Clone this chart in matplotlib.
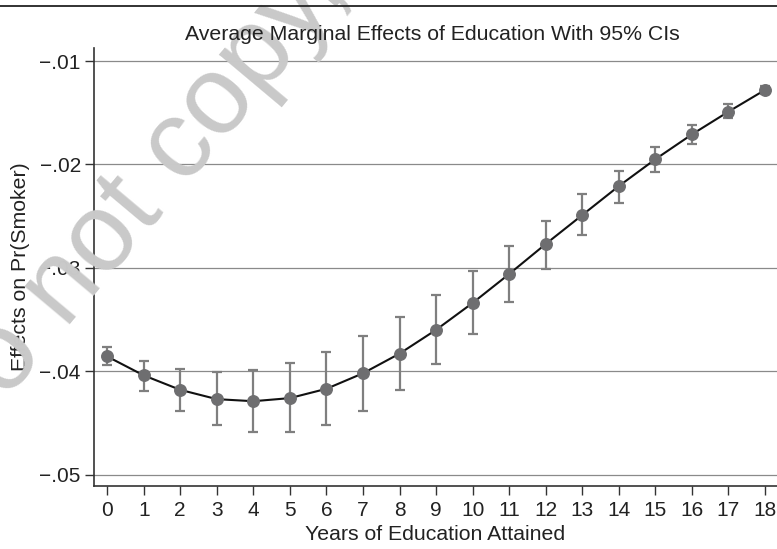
import matplotlib
matplotlib.use("Agg")
import matplotlib.pyplot as plt
from matplotlib.lines import Line2D
from matplotlib.ticker import FuncFormatter

plt.rcParams['font.family'] = ['Liberation Sans', 'DejaVu Sans']

years = list(range(19))
effect = [-0.03857, -0.0404, -0.0418, -0.0427, -0.0429, -0.0426, -0.0417, -0.0402,
          -0.0383, -0.0360, -0.0334, -0.0306, -0.0277, -0.0249, -0.0221, -0.0195,
          -0.0171, -0.0149, -0.0128]
ci_upper = [-0.03766, -0.0390, -0.0398, -0.0401, -0.0399, -0.0392, -0.0381, -0.0366,
            -0.0348, -0.0326, -0.0303, -0.0279, -0.0255, -0.0229, -0.0206, -0.0183,
            -0.0162, -0.0142, -0.0124]
ci_lower = [-0.0394, -0.0419, -0.0438, -0.0452, -0.0459, -0.0459, -0.0452, -0.0438,
            -0.0418, -0.0393, -0.0364, -0.0333, -0.0301, -0.0268, -0.0237, -0.0207,
            -0.0180, -0.0155, -0.0132]
yticks = [-0.05, -0.04, -0.03, -0.02, -0.01]

title = "Average Marginal Effects of Education With 95% CIs"
xlabel = "Years of Education Attained"
ylabel = "Effects on Pr(Smoker)"

fig = plt.figure(figsize=(7.77, 5.49), dpi=100)
ax = fig.add_axes([94/777, 1-486/549, 1-94/777, (486-48)/549])

yerr = [[e - l for e, l in zip(effect, ci_lower)], [u - e for e, u in zip(effect, ci_upper)]]
ax.errorbar(years, effect, yerr=yerr, fmt='none', ecolor='#7f7f7f', elinewidth=1.6,
            capsize=3.8, capthick=1.6, zorder=3)
ax.plot(years, effect, color='#111111', lw=1.5, zorder=4)
ax.plot(years, effect, 'o', color='#6e6e70', ms=8.3, mec='#6e6e70', zorder=5)

ax.set_xlim(-0.36, 18.33)
ax.set_ylim(-0.0511, -0.00874)
ax.set_xticks(years)
ax.set_yticks(yticks)
ax.yaxis.set_major_formatter(FuncFormatter(lambda v, p: ("\u2212" if v < 0 else "") + ("%.2f" % abs(v)).lstrip("0")))
ax.grid(axis='y', color='#8a8a8a', lw=0.9)
ax.set_axisbelow(True)
for s in ['top', 'right']:
    ax.spines[s].set_visible(False)
for s in ['left', 'bottom']:
    ax.spines[s].set_color('#333333')
    ax.spines[s].set_linewidth(1.2)
ax.tick_params(axis='both', length=6.5, width=1.0, color='#333333', labelsize=15, labelcolor='#222222')
ax.tick_params(axis='x', pad=4)
ax.tick_params(axis='y', pad=3)

ax.set_xlabel(xlabel, fontsize=15.3, color='#222222', labelpad=4)
ax.set_ylabel(ylabel, fontsize=15.3, color='#222222', labelpad=7)
fig.text((185+680)/2/777, 1-34/549, title, ha='center', va='center', fontsize=15.3, color='#222222')

fig.add_artist(Line2D([0, 1], [1-5.7/549, 1-5.7/549], color='#222222', lw=1.3, transform=fig.transFigure))

fig.text(-46.1/777, 1-462.4/549, "Do not copy, post, or distribute", rotation=50, rotation_mode='anchor',
         ha='left', va='baseline', fontsize=80, color='#c9c9c9', zorder=0)

fig.savefig("out.png", dpi=100)
